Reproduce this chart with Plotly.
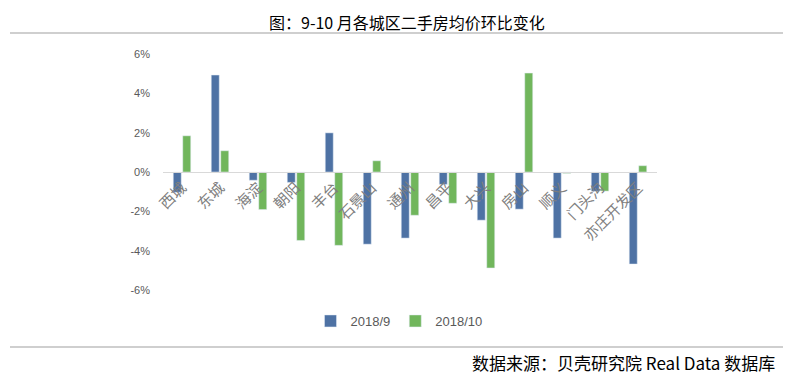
import plotly.graph_objects as go

categories = ["西城", "东城", "海淀", "朝阳", "丰台", "石景山", "通州", "昌平", "大兴", "房山", "顺义", "门头沟", "亦庄开发区"]
sep_2018 = [-1.03, 4.93, -0.42, -0.53, 1.99, -3.67, -3.36, -0.63, -2.45, -1.89, -3.36, -0.98, -4.68]
oct_2018 = [1.84, 1.08, -1.91, -3.48, -3.73, 0.57, -2.20, -1.59, -4.88, 5.03, -0.07, -0.97, 0.32]
ytick_vals = [-6, -4, -2, 0, 2, 4, 6]
ytick_text = ["-6%", "-4%", "-2%", "0%", "2%", "4%", "6%"]

OFF = 8  # page body margin
W, H = 793 - 2 * OFF, 383 - 2 * OFF
L, R, T, B = 163 - OFF, 657 - OFF, 54 - OFF, 290 - OFF

def px_x(x):
    return (x - OFF - L) / (R - L)

def px_y(y):
    return (B - (y - OFF)) / (B - T)

fig = go.Figure()
fig.add_trace(go.Bar(x=categories, y=sep_2018, name="2018/9", marker_color="#4E72A4"))
fig.add_trace(go.Bar(x=categories, y=oct_2018, name="2018/10", marker_color="#71B65C"))

fig.update_layout(
    width=W, height=H,
    margin=dict(l=L, r=W - R, t=T, b=H - B, autoexpand=False),
    paper_bgcolor="white", plot_bgcolor="white",
    barmode="group", bargap=0.5, bargroupgap=0.16,
    font=dict(family="Noto Sans CJK SC", color="#595959"),
    showlegend=True,
    legend=dict(orientation="h", x=px_x(399), y=px_y(321), xanchor="center", yanchor="middle",
                font=dict(size=13, color="#595959", family="Liberation Sans, Noto Sans CJK SC"),
                itemwidth=30, tracegroupgap=0),
    xaxis=dict(anchor="free", position=0.5, showline=True, linecolor="#d9d9d9", linewidth=1,
               ticks="", tickangle=-45, tickfont=dict(size=15, color="#7f7f7f", family="Noto Sans CJK SC"),
               showgrid=False, zeroline=False),
    yaxis=dict(range=[-6, 6], tickvals=ytick_vals, ticktext=ytick_text, showgrid=False,
               zeroline=False, showline=False, ticks="", ticklabelstandoff=12,
               tickfont=dict(size=11, color="#595959", family="Liberation Sans")),
    shapes=[
        dict(type="line", xref="paper", yref="paper", x0=px_x(10), x1=px_x(783), y0=px_y(33), y1=px_y(33),
             line=dict(color="#bfbfbf", width=1.5)),
        dict(type="line", xref="paper", yref="paper", x0=px_x(10), x1=px_x(783), y0=px_y(347), y1=px_y(347),
             line=dict(color="#bfbfbf", width=1.5)),
    ],
    annotations=[
        dict(text="图：9-10 月各城区二手房均价环比变化", xref="paper", yref="paper", x=px_x(407), y=px_y(8.5),
             xanchor="center", yanchor="top", showarrow=False, borderpad=0,
             font=dict(size=16, color="#000000", family="Noto Sans CJK SC")),
        dict(text="数据来源：贝壳研究院 Real Data 数据库", xref="paper", yref="paper", x=px_x(777), y=px_y(362),
             xanchor="right", yanchor="middle", showarrow=False,
             font=dict(size=17, color="#000000", family="Noto Sans CJK SC")),
    ],
)

fig.write_html("out.html")
